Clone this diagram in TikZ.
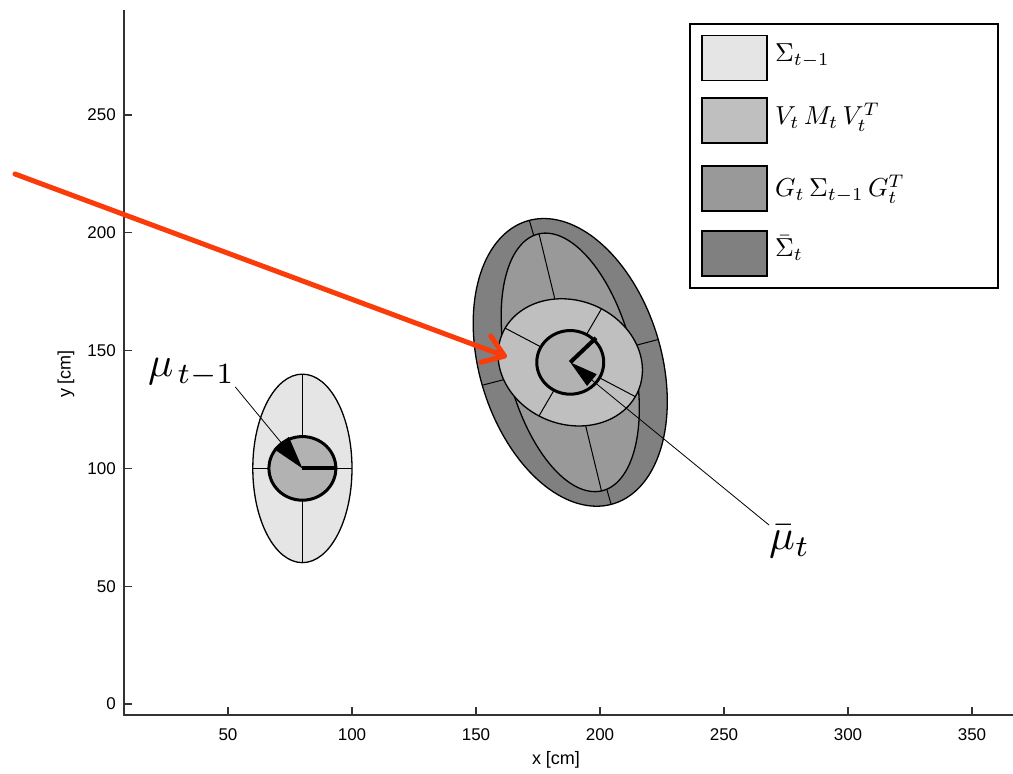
\documentclass[tikz,border=0pt]{standalone}
\usepackage{fontspec}
\newfontfamily\axfont{Liberation Sans}
\usetikzlibrary{arrows.meta}
\definecolor{cSig}{gray}{0.9}
\definecolor{cVMV}{gray}{0.75}
\definecolor{cGSG}{gray}{0.6}
\definecolor{cBar}{gray}{0.5}
\definecolor{cRob}{gray}{0.7}
\definecolor{axgray}{gray}{0.2}
\definecolor{arrowred}{RGB}{250,60,10}
\begin{document}
\begin{tikzpicture}[x=1pt,y=1pt,
  ell/.style={draw=black, line width=1.3pt},
  axl/.style={draw=black, line width=1pt},
  rob/.style={draw=black, line width=3pt, fill=cRob},
  heading/.style={line width=4pt, black},
  annot/.style={line width=0.8pt, black},
  axisline/.style={line width=1.5pt, axgray},
  tickmark/.style={line width=1.3pt, axgray},
  ticklab/.style={font=\axfont\fontsize{17}{17}\selectfont, inner sep=0pt, text=black},
  axlab/.style={font=\axfont\fontsize{18}{18}\selectfont, inner sep=0pt},
  legbox/.style={draw=black, line width=1.5pt, minimum width=308pt, minimum height=264pt, inner sep=0pt},
  swatch/.style={draw=black, line width=1.5pt, minimum width=65pt, minimum height=45pt, inner sep=0pt},
  legtxt/.style={anchor=base west, inner sep=0pt, font=\fontsize{10}{12}\selectfont},
  mulab/.style={inner sep=0pt, font=\fontsize{10}{12}\selectfont},
  redarrow/.style={draw=arrowred, line width=5pt, line cap=round, -{Straight Barb[length=20pt,width=28pt,line cap=round,line join=round]}}
]
\useasboundingbox (0,0) rectangle (1013,774);

\begin{scope}[shift={(104,70)}, x=2.48pt, y=2.356pt]
  % axes
  \draw[axisline] (8.06,294.6) -- (8.06,-4.67) -- (366.5,-4.67);
  \foreach \v in {0,50,100,150,200,250} {
    \draw[tickmark] (8.06,\v) -- ++(8pt,0);
    \node[ticklab, anchor=east, xshift=-8pt] (yt\v) at (8.06,\v) {\v};
  }
  \foreach \v in {50,100,150,200,250,300,350} {
    \draw[tickmark] (\v,-4.67) -- ++(0,8pt);
    \node[ticklab, anchor=north, yshift=-13pt] (xt\v) at (\v,-4.67) {\v};
  }

  \coordinate (mu0) at (80,100);
  \coordinate (mu1) at (188,145);

  % Sigma_{t-1}
  \filldraw[fill=cSig, ell] (mu0) ellipse [x radius=20, y radius=40];
  \draw[axl] (60,100) -- (100,100);
  \draw[axl] (80,60) -- (80,140);

  % bar Sigma_t
  \filldraw[fill=cBar, ell] plot[domain=0:360,samples=145,variable=\t]
    ({188+62.5*cos(\t)*cos(105.3)-36.8*sin(\t)*sin(105.3)},{145+62.5*cos(\t)*sin(105.3)+36.8*sin(\t)*cos(105.3)}) -- cycle;
  \draw[axl] (171.51,205.29) -- (204.49,84.71);
  \draw[axl] (152.5,135.29) -- (223.5,154.71);

  % G Sigma G^T
  \filldraw[fill=cGSG, ell] plot[domain=0:360,samples=145,variable=\t]
    ({188+56*cos(\t)*cos(103)-25.5*sin(\t)*sin(103)},{145+56*cos(\t)*sin(103)+25.5*sin(\t)*cos(103)}) -- cycle;
  \draw[axl] (175.4,199.57) -- (200.6,90.43);
  \draw[axl] (163.16,139.26) -- (212.84,150.74);

  % V M V^T
  \filldraw[fill=cVMV, ell] plot[domain=0:360,samples=145,variable=\t]
    ({188+30*cos(\t)*cos(151)-26*sin(\t)*sin(151)},{145+30*cos(\t)*sin(151)+26*sin(\t)*cos(151)}) -- cycle;
  \draw[axl] (161.76,159.54) -- (214.24,130.46);
  \draw[axl] (175.4,122.26) -- (200.6,167.74);

  % robots
  \filldraw[rob] (mu0) circle [radius=13.5];
  \draw[heading] (mu0) -- ++(14,0);
  \filldraw[rob] (mu1) circle [radius=13.5];
  \draw[heading] (mu1) -- ++(10.4,10.4);
\end{scope}

% axis labels
\node[axlab] (xlab) at (556,14) {x [cm]};
\node[axlab, rotate=90] (ylab) at (66,400) {y [cm]};

% mean labels and pointers
\node[mulab, anchor=base west] (lab0) at (148,397) {\scalebox{4.2}{$\mu_{\mkern2mu t-1}$}};
\node[mulab, anchor=north west] (lab1) at (769,249) {\scalebox{4.3}{$\bar{\mu}_t$}};
\draw[annot, -{Triangle[length=33pt,width=19pt]}] (lab0.south east) -- (mu0);
\draw[annot, -{Triangle[length=28pt,width=15pt]}] (lab1.north west) -- (mu1);

% legend
\node[legbox] (legend) at (844,618) {};
\node[swatch, fill=cSig] (sw1) at (734.5,716) {};
\node[swatch, fill=cVMV] (sw2) at (734.5,653.5) {};
\node[swatch, fill=cGSG] (sw3) at (734.5,585.5) {};
\node[swatch, fill=cBar] (sw4) at (734.5,520.5) {};
\node[legtxt] (lt1) at (775,712) {\scalebox{2.6}{$\Sigma_{t-1}$}};
\node[legtxt] (lt2) at (775,649) {\scalebox{2.6}{$V_t\,M_t\,V_t^T$}};
\node[legtxt] (lt3) at (775,577) {\scalebox{2.6}{$G_t\,\Sigma_{t-1}\,G_t^T$}};
\node[legtxt] (lt4) at (775,517) {\scalebox{2.6}{$\bar{\Sigma}_t$}};

% red pointer
\coordinate (rs) at (15,600);
\coordinate (rt) at (507,417);
\draw[redarrow] (rs) -- (rt);
\end{tikzpicture}
\end{document}
